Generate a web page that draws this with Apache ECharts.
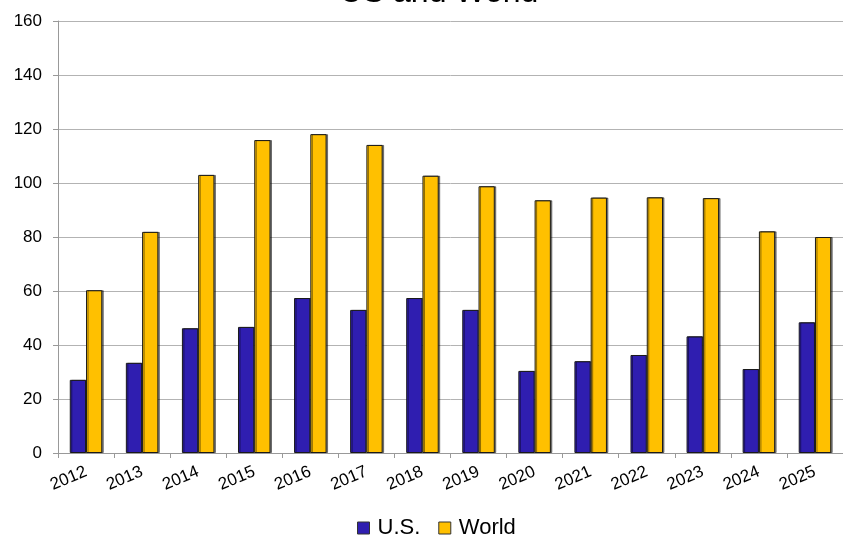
<!DOCTYPE html>
<html>
<head>
<meta charset="utf-8">
<script src="https://cdn.jsdelivr.net/npm/echarts@6/dist/echarts.min.js"></script>
<style>
  html, body { margin: 0; padding: 0; background: #fff; }
  #chart { width: 843px; height: 536px; }
</style>
</head>
<body>
<div id="chart"></div>
<script>
// Yearly values for the U.S. and the world
const years = ['2012','2013','2014','2015','2016','2017','2018','2019','2020','2021','2022','2023','2024','2025'];
const usValues = [27.1, 33.4, 46.2, 46.7, 57.4, 53.0, 57.4, 53.0, 30.4, 34.0, 36.3, 43.2, 31.1, 48.4];
const worldValues = [60.3, 81.9, 103.0, 115.9, 118.1, 114.1, 102.7, 98.8, 93.6, 94.6, 94.7, 94.4, 82.1, 80.0];
const yTicks = [0, 20, 40, 60, 80, 100, 120, 140, 160];

const chart = echarts.init(document.getElementById('chart'), null, { renderer: 'canvas' });
const font = 'Liberation Sans, Arial, sans-serif';

const barStyle = (color) => ({
  color: color,
  borderColor: '#1a1a1a',
  borderWidth: 1,
  shadowColor: 'rgba(0,0,0,0.45)',
  shadowOffsetX: 1.5,
  shadowOffsetY: 0,
  shadowBlur: 0
});

chart.setOption({
  animation: false,
  backgroundColor: '#ffffff',
  title: {
    text: 'US and World',
    left: 434,
    top: -28,
    textAlign: 'center',
    textStyle: { fontFamily: font, fontSize: 32, fontWeight: 'normal', color: '#000' }
  },
  legend: {
    top: 512,
    left: 352,
    itemWidth: 12,
    itemHeight: 12,
    itemGap: 18,
    icon: 'rect',
    itemStyle: { borderColor: '#333', borderWidth: 1 },
    textStyle: { fontFamily: font, fontSize: 22, color: '#000', padding: [0, 0, 0, 3] },
    data: ['U.S.', 'World']
  },
  grid: { left: 58, top: 21, width: 793, height: 432, containLabel: false },
  xAxis: {
    type: 'category',
    data: years,
    boundaryGap: true,
    axisLine: { lineStyle: { color: '#999999', width: 1 } },
    axisTick: { show: true, length: 5, alignWithLabel: false, lineStyle: { color: '#999999' } },
    axisLabel: {
      rotate: 23,
      margin: 18,
      fontFamily: font,
      fontSize: 17,
      color: '#000'
    },
    splitLine: { show: false }
  },
  yAxis: {
    type: 'value',
    min: yTicks[0],
    max: yTicks[yTicks.length - 1],
    interval: 20,
    axisLine: { show: true, lineStyle: { color: '#999999', width: 1 } },
    axisTick: { show: true, length: 5, lineStyle: { color: '#999999' } },
    axisLabel: { fontFamily: font, fontSize: 17, color: '#000', margin: 16 },
    splitLine: { show: true, lineStyle: { color: '#b3b3b3', width: 1 } }
  },
  series: [
    {
      name: 'U.S.',
      type: 'bar',
      data: usValues,
      barGap: '0%',
      barCategoryGap: '42%',
      itemStyle: barStyle('#2f1eb0')
    },
    {
      name: 'World',
      type: 'bar',
      data: worldValues,
      barGap: '0%',
      barCategoryGap: '42%',
      itemStyle: barStyle('#ffc000')
    }
  ]
});
</script>
</body>
</html>
